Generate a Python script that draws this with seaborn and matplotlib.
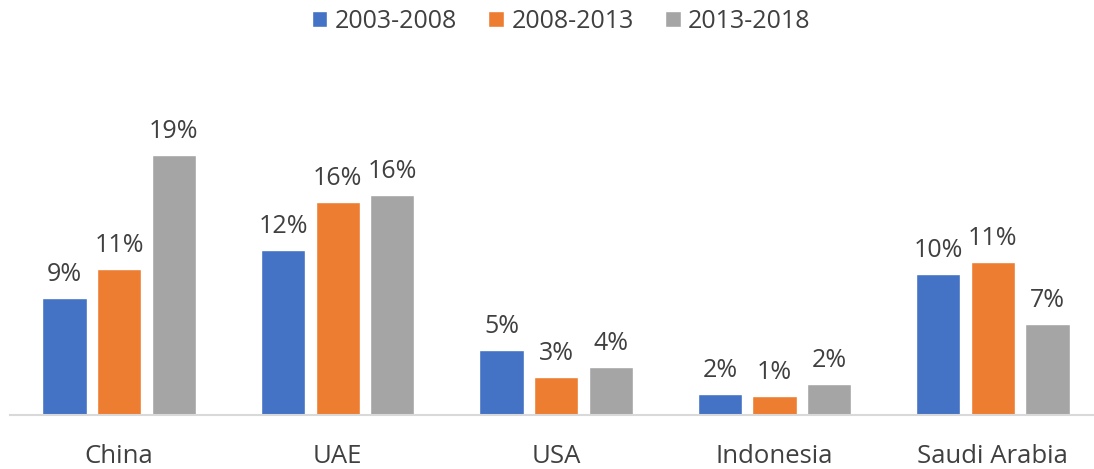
import matplotlib
matplotlib.use("Agg")
import matplotlib.pyplot as plt
import seaborn as sns
import pandas as pd

# Growth by period (percent)
countries = ["China", "UAE", "USA", "Indonesia", "Saudi Arabia"]
periods = ["2003-2008", "2008-2013", "2013-2018"]
growth_2003_2008 = [8.7, 12.3, 4.85, 1.55, 10.5]
growth_2008_2013 = [10.9, 15.9, 2.8, 1.35, 11.45]
growth_2013_2018 = [19.45, 16.45, 3.55, 2.3, 6.75]
colors = ["#4472C4", "#ED7D31", "#A5A5A5"]

df = pd.DataFrame({
    "country": countries * 3,
    "period": [p for p in periods for _ in countries],
    "growth": growth_2003_2008 + growth_2008_2013 + growth_2013_2018,
})

sns.set_style("white")
plt.rcParams["font.family"] = ["Open Sans", "DejaVu Sans"]
text_color = "#404040"

fig = plt.figure(figsize=(10.94, 4.69), dpi=100)
ax = fig.add_axes([10 / 1094, 54.5 / 469, 1.0 - 10 / 1094, 333.75 / 469])

sns.barplot(
    data=df, x="country", y="growth", hue="period",
    order=countries, hue_order=periods, palette=colors, saturation=1,
    width=0.75, gap=0.19, ax=ax, legend=True,
)

for container in ax.containers:
    ax.bar_label(container, fmt="{:.0f}%", padding=8, fontsize=18, color=text_color)

ax.set_ylim(0, 25)
ax.set_xlim(-0.5, 4.463)
ax.set_xlabel("")
ax.set_ylabel("")
ax.set_yticks([])
for side in ["top", "left", "right"]:
    ax.spines[side].set_visible(False)
ax.spines["bottom"].set_color("#D9D9D9")
ax.spines["bottom"].set_linewidth(1.5)
ax.tick_params(axis="x", length=0, pad=21, labelsize=18.5, labelcolor=text_color)

handles, labels = ax.get_legend_handles_labels()
ax.get_legend().remove()
fig.legend(
    handles, labels, loc="center", bbox_to_anchor=(0.513, 1 - 21 / 469),
    ncol=3, frameon=False, fontsize=18, handlelength=0.62, handleheight=0.62,
    handletextpad=0.3, columnspacing=1.25, labelcolor=text_color,
)

fig.savefig("out.png", dpi=100)
